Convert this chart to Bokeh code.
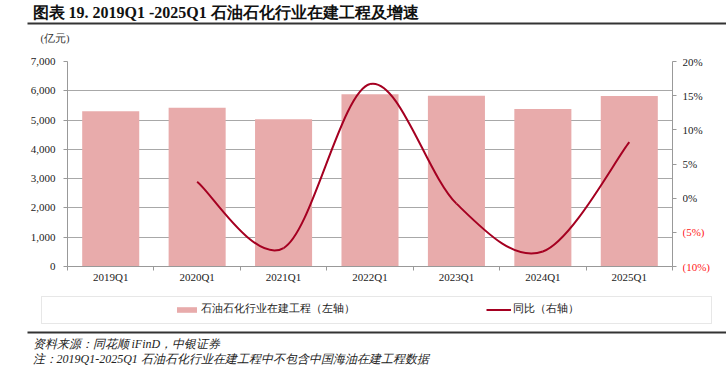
import numpy as np
from bokeh.plotting import figure
from bokeh.layouts import column, row
from bokeh.models import (Range1d, LinearAxis, FixedTicker, NumeralTickFormatter,
                          CustomJSTickFormatter, Label, BoxAnnotation, Legend, LegendItem)
from bokeh.embed import file_html
from bokeh.resources import INLINE

# ---------------- data ----------------
categories = ["2019Q1", "2020Q1", "2021Q1", "2022Q1", "2023Q1", "2024Q1", "2025Q1"]
construction = [5300, 5420, 5030, 5880, 5830, 5380, 5820]          # 亿元 (left axis)
yoy_categories = ["2020Q1", "2021Q1", "2022Q1", "2023Q1", "2024Q1", "2025Q1"]
yoy = [2.4, -7.3, 16.7, -0.8, -7.8, 8.2]                              # % (right axis)
left_ticks = [0, 1000, 2000, 3000, 4000, 5000, 6000, 7000]
right_ticks = [-10, -5, 0, 5, 10, 15, 20]
right_tick_labels = ["(10%)", "(5%)", "0%", "5%", "10%", "15%", "20%"]

title_text = "图表 19. 2019Q1 -2025Q1 石油石化行业在建工程及增速"
unit_text = "(亿元)"
bar_label = "石油石化行业在建工程（左轴）"
line_label = "同比（右轴）"
source_text = "资料来源：同花顺 iFinD，中银证券"
note_text = "注：2019Q1-2025Q1 石油石化行业在建工程中不包含中国海油在建工程数据"

SERIF = "Liberation Serif"
BAR_COLOR = "#E8ABAB"
LINE_COLOR = "#A50021"
AXIS_COLOR = "#999999"
RULE_COLOR = "#333333"
TXT = "#222222"
NEG_COLOR = "#ff2020"

W = 726
TOP_H, MAIN_H, BOT_H = 50, 242, 73
RIGHT_W = 44
MAIN_W = W - RIGHT_W
B_TOP, B_BOTTOM = 11, 26          # borders round the plot frame


def no_align(f):
    try:
        f.frame_align = False
    except Exception:
        pass


def blank_fig(width, height, x_range, y_range):
    f = figure(width=width, height=height, output_backend="svg", toolbar_location=None,
               x_range=x_range, y_range=y_range, x_axis_location=None, y_axis_location=None,
               min_border=0, min_border_left=0, min_border_right=0,
               min_border_top=0, min_border_bottom=0)
    f.outline_line_color = None
    f.grid.visible = False
    no_align(f)
    return f


# ---------------- main chart ----------------
n = len(categories)
p = figure(width=MAIN_W, height=MAIN_H, output_backend="svg", toolbar_location=None,
           x_range=Range1d(0, n), y_range=Range1d(left_ticks[0], left_ticks[-1]),
           min_border_left=67, min_border_right=10, min_border_top=B_TOP,
           min_border_bottom=B_BOTTOM)
p.outline_line_color = None
no_align(p)
right_range = Range1d(right_ticks[0], right_ticks[-1])
p.extra_y_ranges = {"right": right_range}

xc = np.arange(n) + 0.5
pos = {c: v for c, v in zip(categories, xc)}

p.vbar(x=xc, top=construction, width=0.66, fill_color=BAR_COLOR, line_color=None)

# smooth (Excel-like) curve through the YoY points
xs = np.array([pos[c] for c in yoy_categories])
ys = np.array(yoy, dtype=float)
m = len(ys)
x0, y0, x1, y1, cx0, cy0, cx1, cy1 = [], [], [], [], [], [], [], []
for i in range(m - 1):
    a = max(i - 1, 0)
    b = min(i + 2, m - 1)
    x0.append(xs[i]); y0.append(ys[i]); x1.append(xs[i + 1]); y1.append(ys[i + 1])
    cx0.append(xs[i] + (xs[i + 1] - xs[a]) / 6); cy0.append(ys[i] + (ys[i + 1] - ys[a]) / 6)
    cx1.append(xs[i + 1] - (xs[b] - xs[i]) / 6); cy1.append(ys[i + 1] - (ys[b] - ys[i]) / 6)
p.bezier(x0=x0, y0=y0, x1=x1, y1=y1, cx0=cx0, cy0=cy0, cx1=cx1, cy1=cy1,
         line_color=LINE_COLOR, line_width=2, y_range_name="right")

xa = p.xaxis[0]
xa.ticker = FixedTicker(ticks=list(xc), minor_ticks=list(range(n + 1)))
xa.formatter = CustomJSTickFormatter(args=dict(cats=categories),
                                     code="return cats[Math.floor(tick)] || ''")
xa.major_tick_line_color = None
xa.major_tick_out = 4
xa.major_tick_in = 0
xa.minor_tick_line_color = AXIS_COLOR
xa.minor_tick_out = 4
xa.minor_tick_in = 0
xa.axis_line_color = AXIS_COLOR
xa.major_label_standoff = 0
xa.major_label_text_font = SERIF
xa.major_label_text_font_size = "11px"
xa.major_label_text_color = TXT

ya = p.yaxis[0]
ya.ticker = FixedTicker(ticks=left_ticks)
ya.formatter = NumeralTickFormatter(format="0,0")
ya.axis_line_color = AXIS_COLOR
ya.major_tick_line_color = AXIS_COLOR
ya.major_tick_out = 4
ya.major_tick_in = 0
ya.minor_tick_line_color = None
ya.major_label_standoff = 8
ya.major_label_text_font = SERIF
ya.major_label_text_font_size = "11px"
ya.major_label_text_color = TXT

ra = LinearAxis(y_range_name="right", ticker=FixedTicker(ticks=right_ticks),
                formatter=CustomJSTickFormatter(code="return ''"))
ra.axis_line_color = AXIS_COLOR
ra.major_tick_line_color = AXIS_COLOR
ra.major_tick_out = 4
ra.major_tick_in = 0
ra.minor_tick_line_color = None
ra.major_label_standoff = 0
ra.major_label_text_font_size = "0px"
p.add_layout(ra, "right")

p.xgrid.grid_line_color = None
p.ygrid.grid_line_color = "#a8a8a8"
p.ygrid.grid_line_width = 1

# ---------------- right-axis labels (black / red negatives) ----------------
frame_h = MAIN_H - B_TOP - B_BOTTOM
upp = (right_ticks[-1] - right_ticks[0]) / frame_h
r = blank_fig(RIGHT_W, MAIN_H, Range1d(0, RIGHT_W),
              Range1d(right_ticks[0] - B_BOTTOM * upp, right_ticks[-1] + B_TOP * upp))
r.text(x=[0] * len(right_ticks), y=right_ticks, text=right_tick_labels,
       text_color=[NEG_COLOR if t < 0 else TXT for t in right_ticks],
       text_font=SERIF, text_font_size="11px", text_baseline="middle", text_align="left")

# ---------------- top: title, rule, unit ----------------
t = blank_fig(W, TOP_H, Range1d(0, W), Range1d(TOP_H, 0))
t.add_layout(Label(x=32, y=12, text=title_text, text_font=SERIF, text_font_size="16px",
                   text_font_style="bold", text_color="#111111",
                   text_baseline="middle", text_align="left"))
t.add_layout(BoxAnnotation(left=27, right=W, top=22, bottom=24, fill_color=RULE_COLOR,
                           fill_alpha=1, line_color=None))
t.add_layout(Label(x=40, y=38, text=unit_text, text_font=SERIF, text_font_size="10.5px",
                   text_color="#333333", text_baseline="middle", text_align="left"))

# ---------------- bottom: legend, rule, sources ----------------
bt = blank_fig(W, BOT_H, Range1d(0, W), Range1d(BOT_H, 0))
bt.add_layout(BoxAnnotation(left=41, right=711, top=4, bottom=31, fill_color=None,
                            fill_alpha=0, line_color="#b0b0b0", line_width=1))
# hidden copies of the series, only used to draw the legend swatches
dummy_bar = bt.vbar(x=xc, top=construction, width=0.66, fill_color=BAR_COLOR,
                    line_color=None, visible=False)
dummy_line = bt.line(x=xs, y=ys, line_color=LINE_COLOR, line_width=2, visible=False)
legend = Legend(items=[LegendItem(label=bar_label, renderers=[dummy_bar]),
                       LegendItem(label=line_label, renderers=[dummy_line])],
                location=(174, BOT_H - 24), orientation="horizontal", spacing=131,
                padding=0, margin=0, border_line_color=None, background_fill_alpha=0,
                glyph_width=25, glyph_height=7, label_standoff=2, label_height=14,
                inactive_fill_alpha=0,
                label_text_font=SERIF, label_text_font_size="10.5px", label_text_color=TXT)
bt.add_layout(legend, "center")
bt.add_layout(BoxAnnotation(left=27, right=W, top=39, bottom=41, fill_color=RULE_COLOR,
                            fill_alpha=1, line_color=None))
bt.add_layout(Label(x=32, y=51, text=source_text, text_font=SERIF, text_font_size="12px",
                    text_font_style="italic", text_color=TXT,
                    text_baseline="middle", text_align="left"))
bt.add_layout(Label(x=32, y=66, text=note_text, text_font=SERIF, text_font_size="12px",
                    text_font_style="italic", text_color=TXT,
                    text_baseline="middle", text_align="left"))

layout = column(t, row(p, r), bt)
open("out.html", "w").write(file_html(layout, INLINE))
